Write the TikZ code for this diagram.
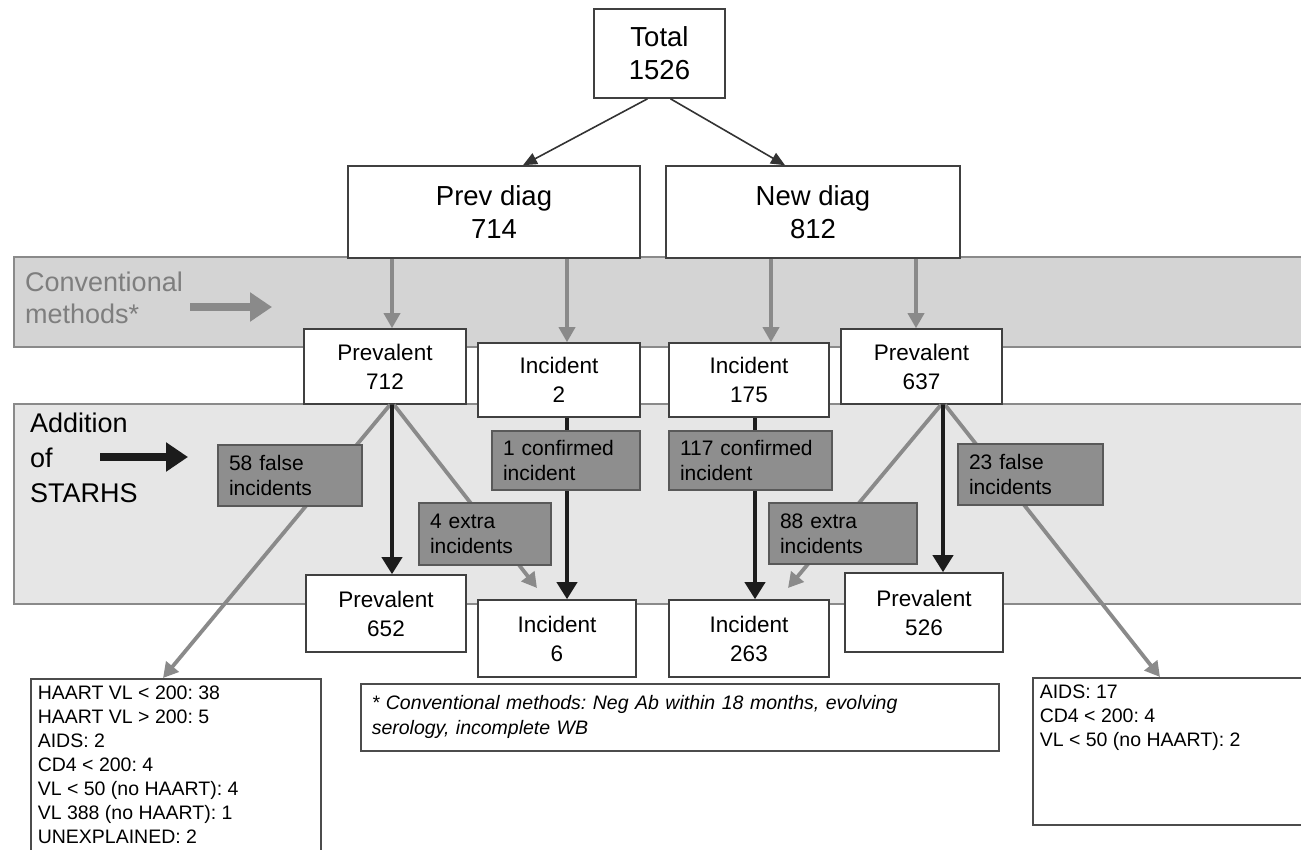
\documentclass[tikz,border=0pt]{standalone}
\usepackage{fontspec}
\setmainfont{Liberation Sans}
\usetikzlibrary{arrows.meta}
\definecolor{convfill}{HTML}{D4D4D4}
\definecolor{addfill}{HTML}{E6E6E6}
\definecolor{bandline}{HTML}{8A8A8A}
\definecolor{dgray}{HTML}{8E8E8E}
\definecolor{garrow}{HTML}{8A8A8A}
\definecolor{barrow}{HTML}{1C1C1C}
\definecolor{sidegray}{HTML}{7E7E7E}
\frenchspacing
\begin{document}
\begin{tikzpicture}[x=1pt,y=-1pt,
  wbox/.style={draw=black!75, line width=1.6pt, fill=white, align=center, inner sep=0pt},
  bigtxt/.style={font=\fontsize{27.5}{33}\selectfont},
  midtxt/.style={font=\fontsize{22.5}{29}\selectfont},
  dbox/.style={draw=black!65, line width=1.6pt, fill=dgray, align=left, inner xsep=11pt, inner ysep=0pt, font=\fontsize{21}{25}\selectfont},
  lbox/.style={draw=black!70, line width=1.6pt, fill=white, inner sep=7pt, font=\fontsize{19.5}{24}\selectfont},
  thinarrow/.style={draw=black!80, line width=1.6pt, -{Triangle[length=14pt,width=12pt]}},
  grayarrow/.style={draw=garrow, line width=3.5pt, -{Triangle[length=15pt,width=16pt]}},
  blackarrow/.style={draw=barrow, line width=3.8pt, -{Triangle[length=17pt,width=20pt]}},
  bandborder/.style={draw=bandline, line width=2.5pt}
]
\useasboundingbox (0,0) rectangle (1301,849);
\clip (0,0) rectangle (1301,849);
\fill[white] (0,0) rectangle (1301,849);

% bands
\fill[convfill] (14,257) rectangle (1320,347);
\draw[bandborder] (1320,257) -- (14,257) -- (14,347) -- (1320,347);
\fill[addfill] (14,404) rectangle (1320,604);
\draw[bandborder] (1320,404) -- (14,404) -- (14,604) -- (1320,604);

% side labels
\node[anchor=west, align=left, text=sidegray, font=\fontsize{27}{32}\selectfont, inner sep=0pt] (convlab) at (25,298) {Conventional\\methods*};
\node[anchor=west, align=left, text=black, font=\fontsize{27}{35}\selectfont, inner sep=0pt] (addlab) at (30,458) {Addition\\of\\STARHS};
\coordinate (cva) at (190,307);
\coordinate (cvb) at (272,307);
\coordinate (sta) at (100,457);
\coordinate (stb) at (188,457);
\draw[draw=garrow, line width=8pt, -{Triangle[length=22pt,width=28pt]}] (cva) -- (cvb);
\draw[draw=barrow, line width=8pt, -{Triangle[length=22pt,width=28pt]}] (sta) -- (stb);

% white boxes
\node[wbox, bigtxt, minimum width=131pt, minimum height=89pt] (total) at (659.5,53.5) {Total\\1526};
\node[wbox, bigtxt, minimum width=292pt, minimum height=92pt] (prev) at (494,212) {Prev diag\\714};
\node[wbox, bigtxt, minimum width=294pt, minimum height=92pt] (new) at (813,212) {New diag\\812};

\node[wbox, midtxt, minimum width=162pt, minimum height=75pt] (p712) at (385,366.5) {Prevalent\\712};
\node[wbox, midtxt, minimum width=162pt, minimum height=74pt] (i2) at (559,380) {Incident\\2};
\node[wbox, midtxt, minimum width=160pt, minimum height=74pt] (i175) at (749,380) {Incident\\175};
\node[wbox, midtxt, minimum width=161pt, minimum height=75pt] (p637) at (921.5,366.5) {Prevalent\\637};

\node[wbox, midtxt, minimum width=160pt, minimum height=77pt] (p652) at (386,613.5) {Prevalent\\652};
\node[wbox, midtxt, minimum width=158pt, minimum height=77pt] (i6) at (557,638.5) {Incident\\6};
\node[wbox, midtxt, minimum width=160pt, minimum height=77pt] (i263) at (749,638.5) {Incident\\263};
\node[wbox, midtxt, minimum width=158pt, minimum height=79pt] (p526) at (924,612.5) {Prevalent\\526};

% lists and footnote
\node[lbox, anchor=north west] (llist) at (30,678) {\parbox[c][196pt][t]{276pt}{\raggedright
HAART VL < 200: 38\\
HAART VL > 200: 5\\
AIDS: 2\\
CD4 < 200: 4\\
VL < 50 (no HAART): 4\\
VL 388 (no HAART): 1\\
UNEXPLAINED: 2}};
\node[lbox, anchor=north west] (rlist) at (1032,677) {\parbox[c][133pt][t]{290pt}{\raggedright
AIDS: 17\\
CD4 < 200: 4\\
VL < 50 (no HAART): 2}};
\node[lbox, anchor=north west, inner xsep=11pt, inner ysep=0pt, minimum height=67pt, text width=616pt, align=left, font=\fontsize{19.5}{25}\selectfont\itshape] (foot) at (360,683) {* Conventional methods: Neg Ab within 18 months, evolving\\serology, incomplete WB};

% connectors
\draw[thinarrow] ([xshift=-12pt]total.south) -- (prev.north -| 523,0);
\draw[thinarrow] ([xshift=11pt]total.south) -- (new.north -| 785,0);

\draw[grayarrow] (prev.south -| 392,0) -- (p712.north -| 392,0);
\draw[grayarrow] (prev.south -| 567,0) -- (i2.north -| 567,0);
\draw[grayarrow] (new.south -| 771,0) -- (i175.north -| 771,0);
\draw[grayarrow] (new.south -| 916,0) -- (p637.north -| 916,0);

\coordinate (e4tip) at (537,588);
\coordinate (e88tip) at (788,588);
\draw[grayarrow, line width=3.8pt] (p712.south -| 390,0) -- (llist.north -| 163,0);
\draw[grayarrow, line width=3.8pt] (p712.south -| 394,0) -- (e4tip);
\draw[grayarrow, line width=3.8pt] (p637.south -| 941,0) -- (e88tip);
\draw[grayarrow, line width=3.8pt] (p637.south -| 945,0) -- (rlist.north -| 1160,0);

\draw[blackarrow] (p712.south -| 392,0) -- (p652.north -| 392,0);
\draw[blackarrow] (i2.south -| 567,0) -- (i6.north -| 567,0);
\draw[blackarrow] (i175.south -| 755,0) -- (i263.north -| 755,0);
\draw[blackarrow] (p637.south -| 943,0) -- (p526.north -| 943,0);

% dark boxes on top
\node[dbox, text width=122pt, minimum height=61pt] (f58) at (290,475.5) {58 false\\incidents};
\node[dbox, text width=126pt, minimum height=59pt] (c1) at (566,460.5) {1 confirmed\\incident};
\node[dbox, text width=110pt, minimum height=62pt] (e4) at (485,534) {4 extra\\incidents};
\node[dbox, text width=141pt, minimum height=59pt] (c117) at (750.5,460.5) {117 confirmed\\incident};
\node[dbox, text width=126pt, minimum height=61pt] (e88) at (843,533.5) {88 extra\\incidents};
\node[dbox, text width=123pt, minimum height=61pt] (f23) at (1030.5,474.5) {23 false\\incidents};
\end{tikzpicture}
\end{document}
